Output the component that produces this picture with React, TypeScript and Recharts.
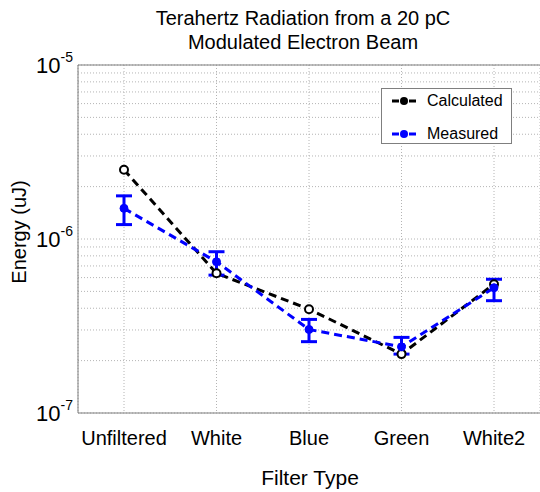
import React from 'react';
import { LineChart, Line, XAxis, YAxis, CartesianGrid, ErrorBar, Legend } from 'recharts';

const categories = ['Unfiltered', 'White', 'Blue', 'Green', 'White2'];
const calculated = [2.5e-6, 6.35e-7, 3.95e-7, 2.18e-7, 5.5e-7];
const measured = [1.5e-6, 7.4e-7, 3.02e-7, 2.4e-7, 5.25e-7];
const measuredErrLow = [0.29e-6, 1.2e-7, 0.45e-7, 0.22e-7, 0.83e-7];
const measuredErrHigh = [0.27e-6, 1.05e-7, 0.43e-7, 0.32e-7, 0.62e-7];

const yTicks = [
  1e-7, 2e-7, 3e-7, 4e-7, 5e-7, 6e-7, 7e-7, 8e-7, 9e-7,
  1e-6, 2e-6, 3e-6, 4e-6, 5e-6, 6e-6, 7e-6, 8e-6, 9e-6,
  1e-5,
];
const yLabelTicks: Record<string, string> = { '1e-7': '-7', '0.000001': '-6', '0.00001': '-5' };

const data = categories.map((name, i) => ({
  name,
  calculated: calculated[i],
  measured: measured[i],
  err: [measuredErrLow[i], measuredErrHigh[i]],
}));

const FONT = '"Liberation Sans", Arial, sans-serif';
const AXIS = '#7f7f7f';

const YTick = (props: any) => {
  const { x, y, payload } = props;
  const exp = yLabelTicks[String(payload.value)];
  if (!exp) return <g />;
  return (
    <text x={x - 5} y={y + 8} textAnchor="end" fontFamily={FONT} fontSize={22} fill="#000">
      10<tspan dy={-11} fontSize={14}>{exp}</tspan>
    </text>
  );
};

const XTick = (props: any) => {
  const { x, y, payload } = props;
  return (
    <text x={x} y={y + 32} textAnchor="middle" fontFamily={FONT} fontSize={20} fill="#000">
      {payload.value}
    </text>
  );
};

const LegendBox = () => (
  <div style={{
    width: 131, height: 56, border: `1px solid ${AXIS}`, background: '#fff',
    fontFamily: FONT, fontSize: 16, color: '#000', boxSizing: 'border-box',
  }}>
    <div style={{ display: 'flex', alignItems: 'center', height: 22, marginTop: 1 }}>
      <svg width={24} height={10} style={{ marginLeft: 10, marginRight: 11 }}>
        <line x1={0} y1={5} x2={24} y2={5} stroke="#000" strokeWidth={3} strokeDasharray="7 10" />
        <circle cx={12} cy={5} r={4} fill="#000" />
      </svg>
      Calculated
    </div>
    <div style={{ display: 'flex', alignItems: 'center', height: 22, marginTop: 11 }}>
      <svg width={24} height={10} style={{ marginLeft: 10, marginRight: 11 }}>
        <line x1={0} y1={5} x2={24} y2={5} stroke="#0000ff" strokeWidth={3} strokeDasharray="7 10" />
        <circle cx={12} cy={5} r={4} fill="#0000ff" />
      </svg>
      Measured
    </div>
  </div>
);

export default function App() {
  return (
    <div style={{ position: 'absolute', left: 0, top: 0, width: 540, height: 492, background: '#fff' }}>
      <div style={{
        position: 'absolute', left: 103, width: 400, top: 6, textAlign: 'center',
        fontFamily: FONT, fontSize: 20, lineHeight: '24px', color: '#000',
      }}>
        Terahertz Radiation from a 20 pC<br />Modulated Electron Beam
      </div>
      <div style={{
        position: 'absolute', left: 210, width: 200, top: 466, textAlign: 'center',
        fontFamily: FONT, fontSize: 21, color: '#000',
      }}>
        Filter Type
      </div>
      <div style={{
        position: 'absolute', left: 19, top: 232, width: 0, height: 0,
      }}>
        <div style={{
          position: 'absolute', width: 160, left: -80, top: -12, textAlign: 'center',
          transform: 'rotate(-90deg)', fontFamily: FONT, fontSize: 20, lineHeight: '24px', color: '#000',
        }}>
          Energy (uJ)
        </div>
      </div>
      <LineChart width={540} height={492} data={data}
        margin={{ top: 64, right: 0, bottom: 49, left: 18 }}>
        <CartesianGrid stroke="#b4b4b4" strokeDasharray="1 2" />
        <XAxis dataKey="name" padding={{ left: 46, right: 46 }} tick={<XTick />}
          tickLine={false} tickSize={0} tickMargin={0} height={30}
          axisLine={{ stroke: AXIS }} interval={0} />
        <XAxis xAxisId="top" orientation="top" dataKey="name" tick={false} tickLine={false}
          height={1} axisLine={{ stroke: AXIS }} />
        <YAxis scale="log" type="number" domain={[1e-7, 1e-5]} allowDataOverflow
          ticks={yTicks} interval={0} tick={<YTick />} tickLine={false} tickSize={0}
          tickMargin={0} width={60} axisLine={{ stroke: AXIS }} />
        <Legend layout="vertical" align="center" verticalAlign="middle" content={<LegendBox />}
          wrapperStyle={{ left: 381, top: 88, width: 131, height: 56 }} />
        <Line dataKey="calculated" name="Calculated" type="linear" stroke="#000"
          strokeWidth={3} strokeDasharray="8 5" isAnimationActive={false}
          dot={{ r: 4, stroke: '#000', strokeWidth: 2, fill: '#fff', strokeDasharray: '' }}
          activeDot={false} />
        <Line dataKey="measured" name="Measured" type="linear" stroke="#0000ff"
          strokeWidth={3} strokeDasharray="8 5" isAnimationActive={false}
          dot={{ r: 4, stroke: '#0000ff', strokeWidth: 1, fill: '#0000ff', strokeDasharray: '' }}
          activeDot={false}>
          <ErrorBar dataKey="err" direction="y" width={8} strokeWidth={3} stroke="#0000ff" />
        </Line>
      </LineChart>
    </div>
  );
}
